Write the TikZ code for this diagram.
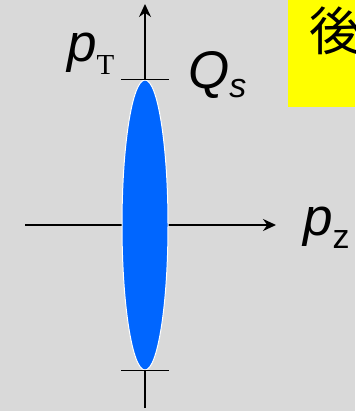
\documentclass[tikz,border=0pt]{standalone}
\usepackage{fontspec}
\setmainfont{Liberation Sans}
\newfontfamily\serifT{Liberation Serif}
\newfontfamily\jpfont{Noto Sans CJK JP}
\usetikzlibrary{arrows.meta,shapes.geometric}
\definecolor{bggray}{RGB}{217,217,217}
\definecolor{pulseblue}{RGB}{0,102,255}
\definecolor{notebox}{RGB}{255,255,0}

\begin{document}
\begin{tikzpicture}[
  x=1pt, y=-1pt, >={Stealth[length=13pt,width=12pt]},
  axis/.style={line width=1.8pt, ->},
  tickmark/.style={line width=1.8pt},
  lbl/.style={font=\fontsize{53}{53}\selectfont\itshape, inner sep=0pt, anchor=base west},
]
\fill[bggray] (0,0) rectangle (355,411);
\useasboundingbox (0,0) rectangle (355,411);
% axes
\coordinate (O) at (145,225);
\coordinate (top) at (145,4);
\coordinate (bot) at (145,408);
\coordinate (left) at (25,225);
\coordinate (right) at (276,225);
\draw[axis] (bot) -- (top);
\draw[axis] (left) -- (right);
% pulse
\node[ellipse, draw=white, line width=1pt, fill=pulseblue,
      minimum width=46, minimum height=290, inner sep=0pt] (pulse) at (O) {};
\draw[tickmark] ([xshift=-24pt]pulse.north) -- ([xshift=24pt]pulse.north);
\draw[tickmark] ([xshift=-24pt]pulse.south) -- ([xshift=24pt]pulse.south);
% labels
\node[lbl] (pt) at (67,62) {p\raisebox{-13pt}{\fontsize{29}{29}\selectfont\upshape\serifT T}};
\node[lbl] (qs) at (188,89) {Q\raisebox{-9pt}{\fontsize{34}{34}\selectfont s}};
\node[lbl] (pz) at (303,235) {p\raisebox{-13pt}{\fontsize{34}{34}\selectfont\upshape z}};
% note box
\fill[notebox] (288,0) rectangle (355,107);
\begin{scope}
\clip (288,0) rectangle (355,107);
\node[font=\fontsize{52}{52}\selectfont\jpfont, anchor=west, inner sep=0pt] (note) at (309,31) {後};
\end{scope}
\end{tikzpicture}
\end{document}
